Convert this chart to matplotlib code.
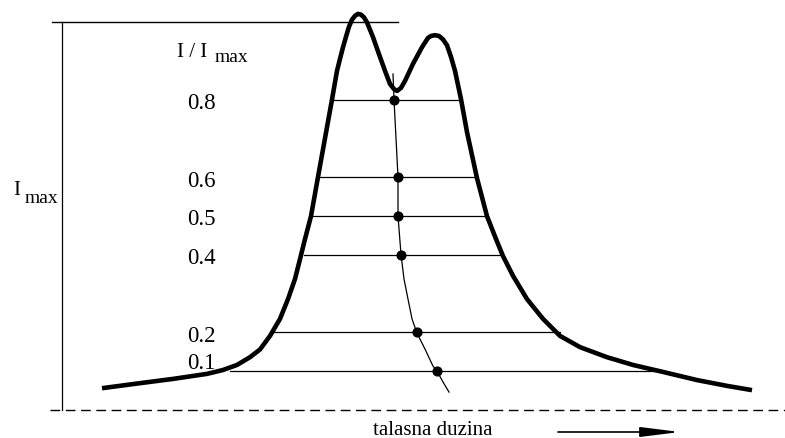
import numpy as np
import matplotlib.pyplot as plt
from matplotlib.patches import FancyArrowPatch

# LINE PROFILE (wavelength in arbitrary units, intensity as I / Imax)
talasna = [102, 140, 173, 207, 223, 237, 250, 260, 270, 280, 288, 295, 300,
           305, 311, 318, 325, 332, 337, 340, 343, 346, 349, 352, 355, 358,
           361, 364, 367, 370, 373, 379, 385, 390, 394, 397, 401, 405, 413,
           422, 428, 431, 435, 439, 443, 447, 451, 455, 461, 467, 477, 487,
           496, 503, 513, 527, 543, 560, 580, 607, 633, 663, 697, 727, 752]
intenzitet = [0.055, 0.068, 0.079, 0.092, 0.102, 0.115, 0.135, 0.155, 0.190,
              0.234, 0.285, 0.337, 0.388, 0.440, 0.499, 0.600, 0.700, 0.800,
              0.874, 0.905, 0.935, 0.962, 0.988, 1.006, 1.016, 1.021, 1.019,
              1.012, 0.999, 0.980, 0.961, 0.917, 0.874, 0.840, 0.827, 0.822,
              0.830, 0.848, 0.892, 0.935, 0.959, 0.964, 0.966, 0.964, 0.955,
              0.940, 0.910, 0.874, 0.801, 0.716, 0.597, 0.499, 0.440, 0.396,
              0.345, 0.285, 0.234, 0.190, 0.161, 0.135, 0.115, 0.097, 0.076,
              0.061, 0.050]

# CHORDS AT FIXED FRACTIONS OF Imax
nivoi = [0.8, 0.6, 0.5, 0.4, 0.2, 0.1]
nivo_labele = ["0.8", "0.6", "0.5", "0.4", "0.2", "0.1"]
tetiva_levo = [333, 319, 311, 304, 271, 230]
tetiva_desno = [459, 477, 487, 503, 560, 657]

# BISECTOR: midpoints of the chords and the curve through them
bisektor_tacke = [394, 398, 398, 401, 417, 437]
bisektor_x = [393, 394, 396, 398, 398, 401, 404, 408, 412, 417, 425, 433,
              437, 443, 449]
bisektor_y = [0.866, 0.800, 0.700, 0.600, 0.500, 0.400, 0.337, 0.285, 0.234,
              0.197, 0.156, 0.112, 0.099, 0.071, 0.045]

plt.rcParams["font.family"] = ["Liberation Serif", "DejaVu Serif"]

fig = plt.figure(figsize=(7.85, 4.39), dpi=100)
ax = fig.add_axes([0, 0, 1, 1])
ax.set_xlim(0, 785)
ax.set_ylim(-0.0735, 1.0594)
ax.axis("off")

# FRAME: Imax bracket and dashed continuum level
ax.plot([52, 398], [1.0, 1.0], color="black", lw=1.0)
ax.plot([62, 62], [0.0, 1.0], color="black", lw=0.9)
ax.plot([50, 785], [0.0, 0.0], color="black", lw=1.0, dashes=(7, 4))

# CHORDS
for nivo, x0, x1 in zip(nivoi, tetiva_levo, tetiva_desno):
    ax.plot([x0, x1], [nivo, nivo], color="black", lw=0.9)

# PROFILE
ax.plot(talasna, intenzitet, color="black", lw=3.3,
        solid_capstyle="butt", solid_joinstyle="round")

# BISECTOR
ax.plot(bisektor_x, bisektor_y, color="black", lw=0.9)
ax.plot(bisektor_tacke, nivoi, "o", color="black", markersize=6.3)

# LEVEL LABELS
for nivo, tekst in zip(nivoi, nivo_labele):
    y = nivo - 0.022
    if nivo == 0.1:
        y = nivo + 0.007   # pushed up, clear of the 0.2 label
    ax.text(187, y, tekst, fontsize=16.5, ha="left", va="baseline")

ax.text(177, 0.912, "I / I", fontsize=15, ha="left", va="baseline")
ax.text(215, 0.899, "max", fontsize=14, ha="left", va="baseline")

ax.text(13, 0.556, "I", fontsize=15, ha="left", va="baseline")
ax.text(25, 0.535, "max", fontsize=14, ha="left", va="baseline")

# WAVELENGTH AXIS NOTE
ax.text(373, -0.063, "talasna duzina", fontsize=15, ha="left", va="baseline")
strelica = FancyArrowPatch(
    (558, -0.058),
    (680, -0.058),
    arrowstyle="-|>,head_length=2.4,head_width=0.3",
    mutation_scale=10,
    color="black",
    lw=1.2,
    shrinkA=0,
    shrinkB=0
)
ax.add_patch(strelica)

fig.savefig("out.png", dpi=100)
